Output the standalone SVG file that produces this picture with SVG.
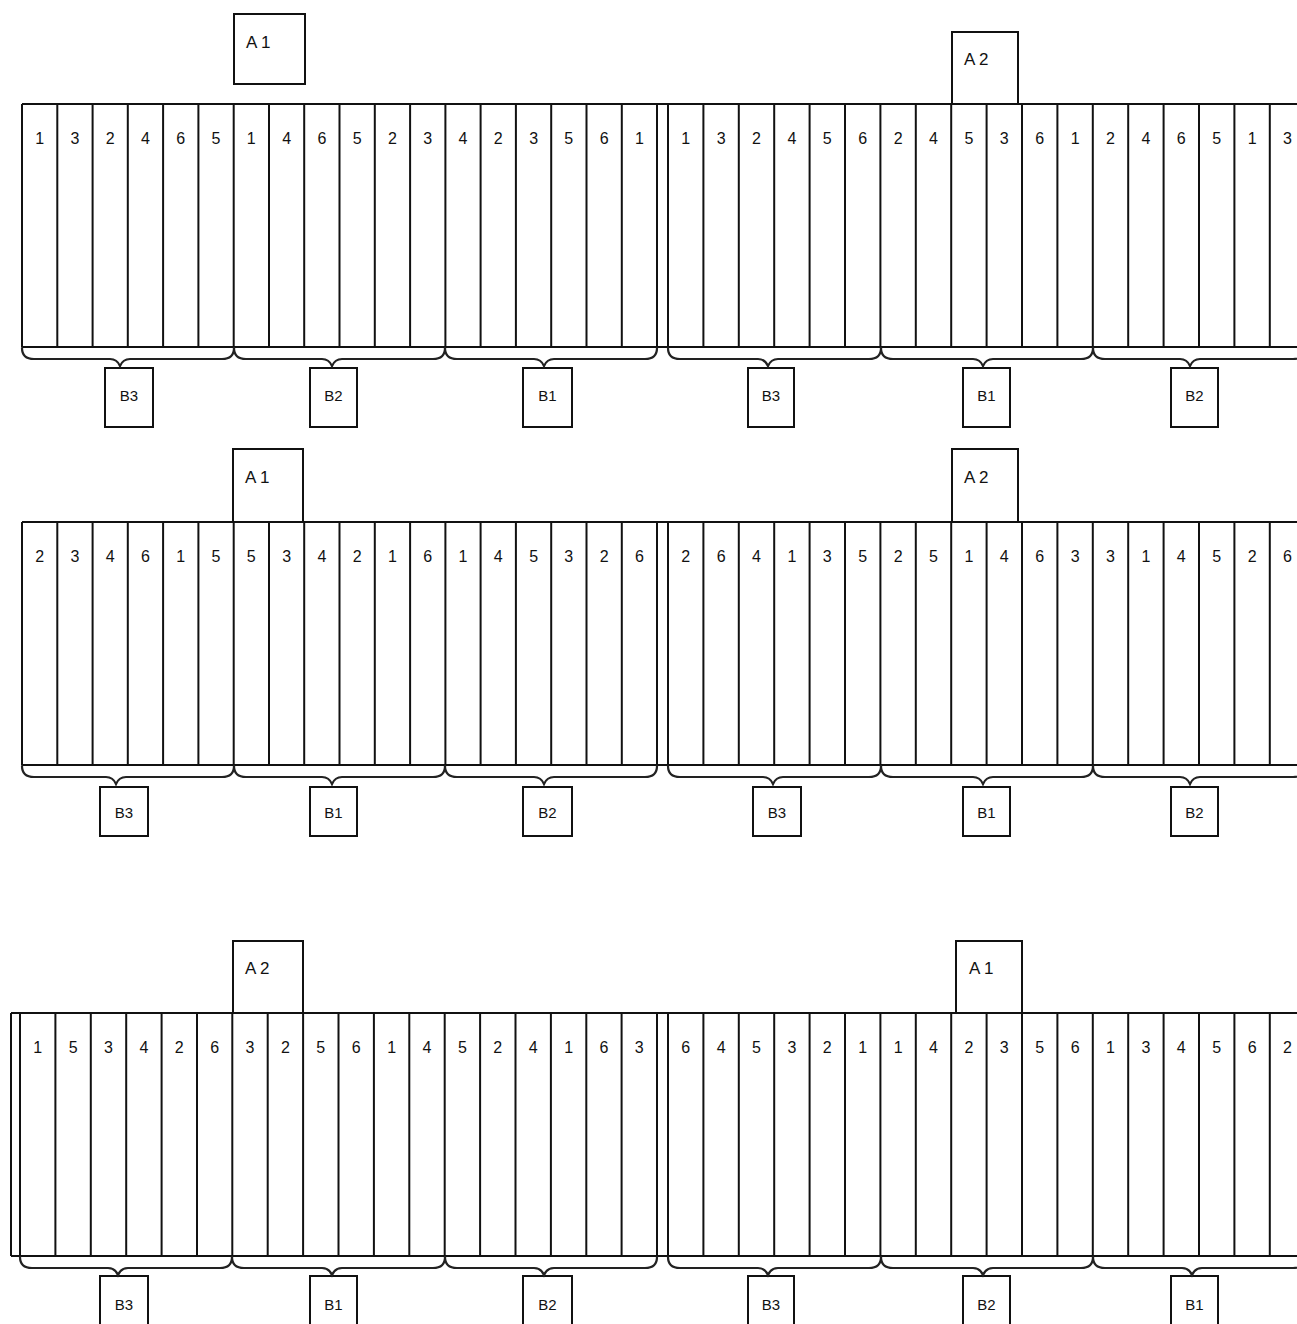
<svg xmlns="http://www.w3.org/2000/svg" width="1297" height="1324" viewBox="0 0 1297 1324">
<style>
.ln{fill:none;stroke:#111;stroke-width:2}
.bx{fill:#fff;stroke:#111;stroke-width:2}
.br{fill:none;stroke:#222;stroke-width:2.2;stroke-linecap:round}
.n{font-family:"Liberation Sans",Arial,sans-serif;font-size:16px;fill:#111;text-anchor:middle}
.a{font-family:"Liberation Sans",Arial,sans-serif;font-size:17px;fill:#111}
.b{font-family:"Liberation Sans",Arial,sans-serif;font-size:15px;fill:#111;text-anchor:middle}
</style>
<rect width="1297" height="1324" fill="#fff"/>

<!-- ================= PANEL 1 ================= -->
<g id="strip1">
<path class="ln" d="M22,104 H1297 M22,347 H1297
M22,104 V347 M57.3,104 V347 M92.6,104 V347 M127.8,104 V347 M163.1,104 V347 M198.4,104 V347 M233.7,104 V347 M269,104 V347 M304.2,104 V347 M339.5,104 V347 M374.8,104 V347 M410.1,104 V347 M445.4,104 V347 M480.6,104 V347 M515.9,104 V347 M551.2,104 V347 M586.5,104 V347 M621.8,104 V347 M657,104 V347
M668,104 V347 M703.4,104 V347 M738.8,104 V347 M774.2,104 V347 M809.6,104 V347 M845,104 V347 M880.4,104 V347 M915.8,104 V347 M951.2,104 V347 M986.6,104 V347 M1022,104 V347 M1057.4,104 V347 M1092.8,104 V347 M1128.2,104 V347 M1163.6,104 V347 M1199,104 V347 M1234.4,104 V347 M1269.8,104 V347"/>
<g class="n">
<text x="39.6" y="144">1</text><text x="74.9" y="144">3</text><text x="110.2" y="144">2</text><text x="145.5" y="144">4</text><text x="180.8" y="144">6</text><text x="216" y="144">5</text>
<text x="251.3" y="144">1</text><text x="286.6" y="144">4</text><text x="321.9" y="144">6</text><text x="357.2" y="144">5</text><text x="392.4" y="144">2</text><text x="427.7" y="144">3</text>
<text x="463" y="144">4</text><text x="498.3" y="144">2</text><text x="533.6" y="144">3</text><text x="568.8" y="144">5</text><text x="604.1" y="144">6</text><text x="639.4" y="144">1</text>
<text x="685.7" y="144">1</text><text x="721.1" y="144">3</text><text x="756.5" y="144">2</text><text x="791.9" y="144">4</text><text x="827.3" y="144">5</text><text x="862.7" y="144">6</text>
<text x="898.1" y="144">2</text><text x="933.5" y="144">4</text><text x="968.9" y="144">5</text><text x="1004.3" y="144">3</text><text x="1039.7" y="144">6</text><text x="1075.1" y="144">1</text>
<text x="1110.5" y="144">2</text><text x="1145.9" y="144">4</text><text x="1181.3" y="144">6</text><text x="1216.7" y="144">5</text><text x="1252.1" y="144">1</text><text x="1287.5" y="144">3</text>
</g>
</g>
<g id="p1-A1"><rect class="bx" x="234" y="14" width="71" height="70"/><text class="a" x="246" y="48">A 1</text></g>
<g id="p1-A2"><path class="ln" d="M952,104 V32 H1018 V104"/><text class="a" x="964" y="65">A 2</text></g>
<g id="p1-B3a"><rect class="bx" x="105" y="368" width="48" height="59"/><text class="b" x="129" y="401">B3</text></g>
<g id="p1-B2a"><rect class="bx" x="310" y="368" width="47" height="59"/><text class="b" x="333.5" y="401">B2</text></g>
<g id="p1-B1a"><rect class="bx" x="523" y="368" width="49" height="59"/><text class="b" x="547.5" y="401">B1</text></g>
<g id="p1-B3b"><rect class="bx" x="748" y="368" width="46" height="59"/><text class="b" x="771" y="401">B3</text></g>
<g id="p1-B1b"><rect class="bx" x="963" y="368" width="47" height="59"/><text class="b" x="986.5" y="401">B1</text></g>
<g id="p1-B2b"><rect class="bx" x="1171" y="368" width="47" height="59"/><text class="b" x="1194.5" y="401">B2</text></g>

<!-- ================= PANEL 2 ================= -->
<g id="strip2">
<path class="ln" d="M22,522 H1297 M22,765 H1297
M22,522 V765 M57.3,522 V765 M92.6,522 V765 M127.8,522 V765 M163.1,522 V765 M198.4,522 V765 M233.7,522 V765 M269,522 V765 M304.2,522 V765 M339.5,522 V765 M374.8,522 V765 M410.1,522 V765 M445.4,522 V765 M480.6,522 V765 M515.9,522 V765 M551.2,522 V765 M586.5,522 V765 M621.8,522 V765 M657,522 V765
M668,522 V765 M703.4,522 V765 M738.8,522 V765 M774.2,522 V765 M809.6,522 V765 M845,522 V765 M880.4,522 V765 M915.8,522 V765 M951.2,522 V765 M986.6,522 V765 M1022,522 V765 M1057.4,522 V765 M1092.8,522 V765 M1128.2,522 V765 M1163.6,522 V765 M1199,522 V765 M1234.4,522 V765 M1269.8,522 V765"/>
<g class="n">
<text x="39.6" y="562">2</text><text x="74.9" y="562">3</text><text x="110.2" y="562">4</text><text x="145.5" y="562">6</text><text x="180.8" y="562">1</text><text x="216" y="562">5</text>
<text x="251.3" y="562">5</text><text x="286.6" y="562">3</text><text x="321.9" y="562">4</text><text x="357.2" y="562">2</text><text x="392.4" y="562">1</text><text x="427.7" y="562">6</text>
<text x="463" y="562">1</text><text x="498.3" y="562">4</text><text x="533.6" y="562">5</text><text x="568.8" y="562">3</text><text x="604.1" y="562">2</text><text x="639.4" y="562">6</text>
<text x="685.7" y="562">2</text><text x="721.1" y="562">6</text><text x="756.5" y="562">4</text><text x="791.9" y="562">1</text><text x="827.3" y="562">3</text><text x="862.7" y="562">5</text>
<text x="898.1" y="562">2</text><text x="933.5" y="562">5</text><text x="968.9" y="562">1</text><text x="1004.3" y="562">4</text><text x="1039.7" y="562">6</text><text x="1075.1" y="562">3</text>
<text x="1110.5" y="562">3</text><text x="1145.9" y="562">1</text><text x="1181.3" y="562">4</text><text x="1216.7" y="562">5</text><text x="1252.1" y="562">2</text><text x="1287.5" y="562">6</text>
</g>
</g>
<g id="p2-A1"><path class="ln" d="M233,522 V449 H303 V522"/><text class="a" x="245" y="483">A 1</text></g>
<g id="p2-A2"><path class="ln" d="M952,522 V449 H1018 V522"/><text class="a" x="964" y="483">A 2</text></g>
<g id="p2-B3a"><rect class="bx" x="100" y="787" width="48" height="49"/><text class="b" x="124" y="818">B3</text></g>
<g id="p2-B1a"><rect class="bx" x="310" y="787" width="47" height="49"/><text class="b" x="333.5" y="818">B1</text></g>
<g id="p2-B2a"><rect class="bx" x="523" y="787" width="49" height="49"/><text class="b" x="547.5" y="818">B2</text></g>
<g id="p2-B3b"><rect class="bx" x="753" y="787" width="48" height="49"/><text class="b" x="777" y="818">B3</text></g>
<g id="p2-B1b"><rect class="bx" x="963" y="787" width="47" height="49"/><text class="b" x="986.5" y="818">B1</text></g>
<g id="p2-B2b"><rect class="bx" x="1171" y="787" width="47" height="49"/><text class="b" x="1194.5" y="818">B2</text></g>

<!-- ================= PANEL 3 ================= -->
<g id="strip3">
<path class="ln" d="M11,1013 H1297 M11,1256 H1297 M11,1013 V1256
M20,1013 V1256 M55.4,1013 V1256 M90.8,1013 V1256 M126.2,1013 V1256 M161.6,1013 V1256 M197,1013 V1256 M232.3,1013 V1256 M267.7,1013 V1256 M303.1,1013 V1256 M338.5,1013 V1256 M373.9,1013 V1256 M409.3,1013 V1256 M444.7,1013 V1256 M480.1,1013 V1256 M515.5,1013 V1256 M550.9,1013 V1256 M586.3,1013 V1256 M621.6,1013 V1256 M657,1013 V1256
M668,1013 V1256 M703.4,1013 V1256 M738.8,1013 V1256 M774.2,1013 V1256 M809.6,1013 V1256 M845,1013 V1256 M880.4,1013 V1256 M915.8,1013 V1256 M951.2,1013 V1256 M986.6,1013 V1256 M1022,1013 V1256 M1057.4,1013 V1256 M1092.8,1013 V1256 M1128.2,1013 V1256 M1163.6,1013 V1256 M1199,1013 V1256 M1234.4,1013 V1256 M1269.8,1013 V1256"/>
<g class="n">
<text x="37.7" y="1053">1</text><text x="73.1" y="1053">5</text><text x="108.5" y="1053">3</text><text x="143.9" y="1053">4</text><text x="179.3" y="1053">2</text><text x="214.7" y="1053">6</text>
<text x="250" y="1053">3</text><text x="285.4" y="1053">2</text><text x="320.8" y="1053">5</text><text x="356.2" y="1053">6</text><text x="391.6" y="1053">1</text><text x="427" y="1053">4</text>
<text x="462.4" y="1053">5</text><text x="497.8" y="1053">2</text><text x="533.2" y="1053">4</text><text x="568.6" y="1053">1</text><text x="604" y="1053">6</text><text x="639.3" y="1053">3</text>
<text x="685.7" y="1053">6</text><text x="721.1" y="1053">4</text><text x="756.5" y="1053">5</text><text x="791.9" y="1053">3</text><text x="827.3" y="1053">2</text><text x="862.7" y="1053">1</text>
<text x="898.1" y="1053">1</text><text x="933.5" y="1053">4</text><text x="968.9" y="1053">2</text><text x="1004.3" y="1053">3</text><text x="1039.7" y="1053">5</text><text x="1075.1" y="1053">6</text>
<text x="1110.5" y="1053">1</text><text x="1145.9" y="1053">3</text><text x="1181.3" y="1053">4</text><text x="1216.7" y="1053">5</text><text x="1252.1" y="1053">6</text><text x="1287.5" y="1053">2</text>
</g>
</g>
<g id="p3-A2"><path class="ln" d="M233,1013 V941 H303 V1013"/><text class="a" x="245" y="974">A 2</text></g>
<g id="p3-A1"><path class="ln" d="M956,1013 V941 H1022 V1013"/><text class="a" x="969" y="974">A 1</text></g>
<g id="p3-B3a"><rect class="bx" x="100" y="1276" width="48" height="60"/><text class="b" x="124" y="1310">B3</text></g>
<g id="p3-B1a"><rect class="bx" x="310" y="1276" width="47" height="60"/><text class="b" x="333.5" y="1310">B1</text></g>
<g id="p3-B2a"><rect class="bx" x="523" y="1276" width="49" height="60"/><text class="b" x="547.5" y="1310">B2</text></g>
<g id="p3-B3b"><rect class="bx" x="748" y="1276" width="46" height="60"/><text class="b" x="771" y="1310">B3</text></g>
<g id="p3-B2b"><rect class="bx" x="963" y="1276" width="47" height="60"/><text class="b" x="986.5" y="1310">B2</text></g>
<g id="p3-B1b"><rect class="bx" x="1171" y="1276" width="47" height="60"/><text class="b" x="1194.5" y="1310">B1</text></g>

<!-- ================= BRACES (connectors) ================= -->
<g id="connectors">
<path class="br" d="M22,348 Q22,359 34,359 L110,359 Q117,359 120,366 Q123,359 130,359 L222,359 Q234,359 234,348"/>
<path class="br" d="M234,348 Q234,359 246,359 L322,359 Q329,359 332,366 Q335,359 342,359 L433,359 Q445,359 445,348"/>
<path class="br" d="M445,348 Q445,359 457,359 L534,359 Q541,359 544,366 Q547,359 554,359 L645,359 Q657,359 657,348"/>
<path class="br" d="M668,348 Q668,359 680,359 L758,359 Q765,359 768,366 Q771,359 778,359 L869,359 Q881,359 881,348"/>
<path class="br" d="M881,348 Q881,359 893,359 L973,359 Q980,359 983,366 Q986,359 993,359 L1081,359 Q1093,359 1093,348"/>
<path class="br" d="M1093,348 Q1093,359 1105,359 L1180,359 Q1187,359 1190,366 Q1193,359 1200,359 L1293,359 Q1305,359 1305,348"/>

<path class="br" d="M22,766 Q22,777 34,777 L106,777 Q113,777 116,784 Q119,777 126,777 L222,777 Q234,777 234,766"/>
<path class="br" d="M234,766 Q234,777 246,777 L322,777 Q329,777 332,784 Q335,777 342,777 L433,777 Q445,777 445,766"/>
<path class="br" d="M445,766 Q445,777 457,777 L534,777 Q541,777 544,784 Q547,777 554,777 L645,777 Q657,777 657,766"/>
<path class="br" d="M668,766 Q668,777 680,777 L763,777 Q770,777 773,784 Q776,777 783,777 L869,777 Q881,777 881,766"/>
<path class="br" d="M881,766 Q881,777 893,777 L973,777 Q980,777 983,784 Q986,777 993,777 L1081,777 Q1093,777 1093,766"/>
<path class="br" d="M1093,766 Q1093,777 1105,777 L1180,777 Q1187,777 1190,784 Q1193,777 1200,777 L1293,777 Q1305,777 1305,766"/>

<path class="br" d="M20,1257 Q20,1268 32,1268 L108,1268 Q115,1268 118,1275 Q121,1268 128,1268 L220,1268 Q232,1268 232,1257"/>
<path class="br" d="M232,1257 Q232,1268 244,1268 L322,1268 Q329,1268 332,1275 Q335,1268 342,1268 L433,1268 Q445,1268 445,1257"/>
<path class="br" d="M445,1257 Q445,1268 457,1268 L534,1268 Q541,1268 544,1275 Q547,1268 554,1268 L645,1268 Q657,1268 657,1257"/>
<path class="br" d="M668,1257 Q668,1268 680,1268 L758,1268 Q765,1268 768,1275 Q771,1268 778,1268 L869,1268 Q881,1268 881,1257"/>
<path class="br" d="M881,1257 Q881,1268 893,1268 L973,1268 Q980,1268 983,1275 Q986,1268 993,1268 L1081,1268 Q1093,1268 1093,1257"/>
<path class="br" d="M1093,1257 Q1093,1268 1105,1268 L1182,1268 Q1189,1268 1192,1275 Q1195,1268 1202,1268 L1293,1268 Q1305,1268 1305,1257"/>
</g>
</svg>
